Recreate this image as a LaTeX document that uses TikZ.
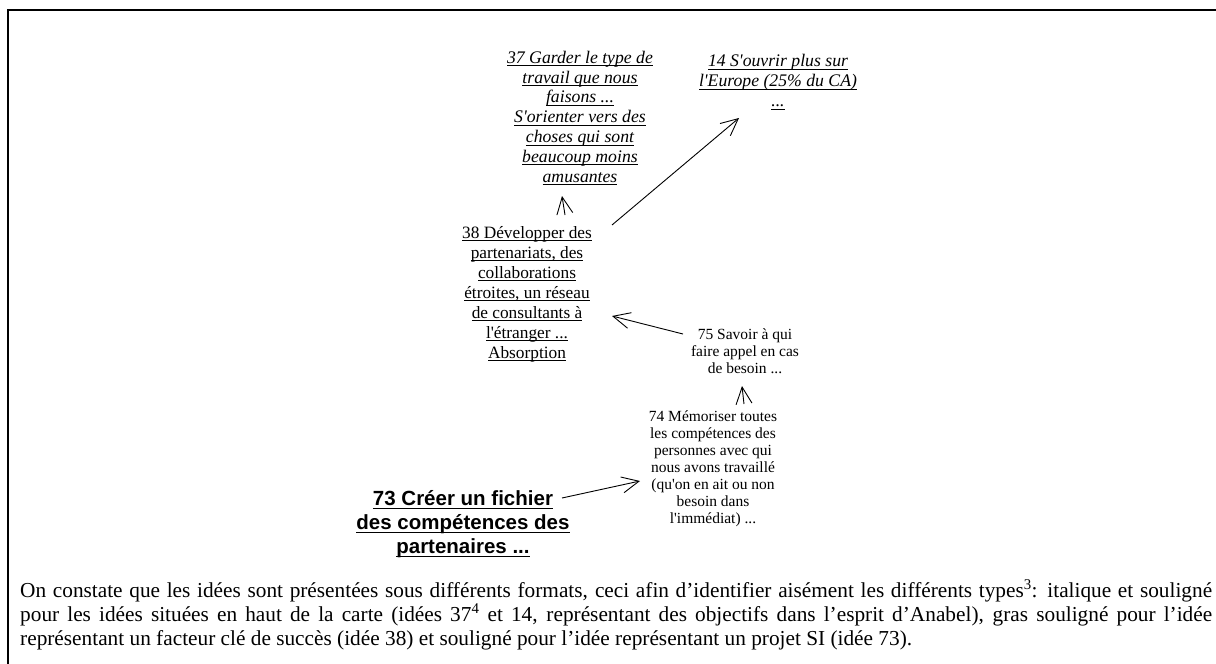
\documentclass[tikz,border=0pt]{standalone}
\usepackage{fontspec}
\usetikzlibrary{arrows.meta,calc}
\newfontfamily\tnr{Liberation Serif}
\newfontfamily\arl{Liberation Sans}

% underline at a fixed depth and thickness
\newlength\ulwd
\newlength\ulthick
\newlength\uldepth
\setlength\ulthick{0.9pt}
\setlength\uldepth{3pt}
\newcommand\ulx[1]{\settowidth\ulwd{#1}\rlap{\rule[-\uldepth]{\ulwd}{\ulthick}}#1}

\tikzset{
  idea/.style={align=center, inner sep=0pt, font=\tnr\fontsize{17.3}{20}\selectfont},
  goal/.style={idea, font=\tnr\itshape\fontsize{17.7}{19.8}\selectfont},
  detail/.style={idea, font=\tnr\fontsize{15.5}{17}\selectfont},
  project/.style={idea, font=\arl\bfseries\fontsize{20.5}{24}\selectfont\setlength\ulthick{1.8pt}\setlength\uldepth{4pt}},
  link/.style={line width=0.9pt, -{Straight Barb[length=17pt,width=16pt,line width=0.9pt]}},
  frameline/.style={line width=2pt},
}

\begin{document}
\begin{tikzpicture}[x=1pt, y=-1pt]
  \useasboundingbox (0,0) rectangle (1216,664);
  \draw[frameline] (8,664) -- (8,10) -- (1216,10);

  % objectives
  \node[goal] (n37) at (580,118) {\ulx{37 Garder le type de}\\ \ulx{travail que nous}\\ \ulx{faisons ...}\\
    \ulx{S'orienter vers des}\\ \ulx{choses qui sont}\\ \ulx{beaucoup moins}\\ \ulx{amusantes}};
  \node[goal] (n14) at (778,82) {\ulx{14 S'ouvrir plus sur}\\ \ulx{l'Europe (25\% du CA)}\\ \ulx{...}};

  % key success factor
  \node[idea] (n38) at (527,294) {\ulx{38 Développer des}\\ \ulx{partenariats, des}\\ \ulx{collaborations}\\
    \ulx{étroites, un réseau}\\ \ulx{de consultants à}\\ \ulx{l'étranger ...}\\ \ulx{Absorption}};

  % intermediate ideas
  \node[detail] (n75) at (745,351) {75 Savoir à qui\\ faire appel en cas\\ de besoin ...};
  \node[detail] (n74) at (713,469) {74 Mémoriser toutes\\ les compétences des\\ personnes avec qui\\
    nous avons travaillé\\ (qu'on en ait ou non\\ besoin dans\\ l'immédiat) ...};

  % IS project
  \node[project] (n73) at (463,524) {\ulx{73 Créer un fichier}\\ \ulx{des compétences des}\\ \ulx{partenaires ...}};

  % links
  \draw[link] ([shift={(38,-79)}]n38.center) -- ([shift={(-18,78)}]n37.center);
  \draw[link] ([shift={(85,-69)}]n38.center) -- ([shift={(-39,36)}]n14.center);
  \draw[link] ([shift={(-62,-17)}]n75.center) -- ([shift={(85,22)}]n38.center);
  \draw[link] ([shift={(31,-65)}]n74.center) -- ([shift={(-3,35)}]n75.center);
  \draw[link] ([shift={(99,-26)}]n73.center) -- ([shift={(-73,12)}]n74.center);

  % caption paragraph (the base anchor sits on the last line)
  \node[anchor=base west, inner sep=0pt, align=left, font=\tnr\fontsize{21.3}{24}\selectfont] (para) at (20,645)
    {\hbox to 1192pt{On constate que les idées sont présentées sous différents formats, ceci afin d’identifier aisément les différents types\textsuperscript{3}: italique et souligné}\\
     \hbox to 1192pt{pour les idées situées en haut de la carte (idées 37\textsuperscript{4} et 14, représentant des objectifs dans l’esprit d’Anabel), gras souligné pour l’idée}\\
     représentant un facteur clé de succès (idée 38) et souligné pour l’idée représentant un projet SI (idée 73).};
\end{tikzpicture}
\end{document}
